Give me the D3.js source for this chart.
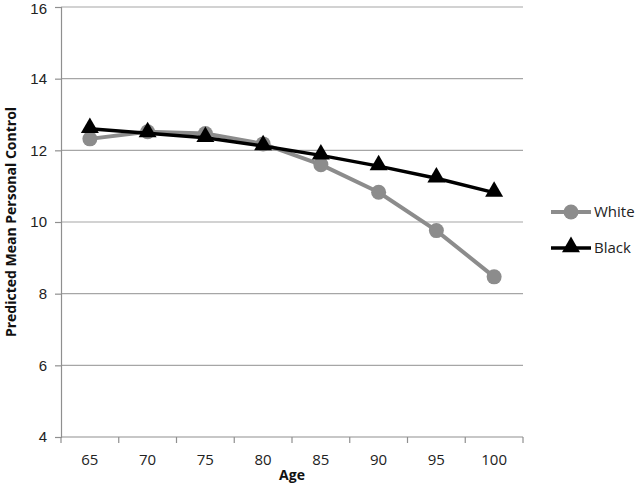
<!DOCTYPE html>
<html>
<head>
<meta charset="utf-8">
<script src="https://cdn.jsdelivr.net/npm/d3@7"></script>
<style>
  body { margin: 0; background: #fff; }
  svg { font-family: "Open Sans", "Liberation Sans", sans-serif; }
</style>
</head>
<body>
<svg id="chart" width="640" height="488"></svg>
<script>
var ages = ['65', '70', '75', '80', '85', '90', '95', '100'];
var white = [12.32, 12.52, 12.47, 12.18, 11.6, 10.83, 9.76, 8.47];
var black = [12.6, 12.48, 12.35, 12.12, 11.86, 11.56, 11.22, 10.82];
var yTicks = [4, 6, 8, 10, 12, 14, 16];

var margin = {left: 61, right: 117, top: 7, bottom: 51};
var width = 640, height = 488;

var svg = d3.select('#chart');

var x = d3.scaleBand()
  .domain(ages)
  .range([margin.left, width - margin.right]);

var y = d3.scaleLinear()
  .domain([4, 16])
  .range([height - margin.bottom, margin.top]);

var axisColor = '#8f8f8f';

// gridlines
svg.append('g')
  .selectAll('line')
  .data(yTicks.slice(1))
  .enter()
  .append('line')
  .attr('x1', margin.left)
  .attr('x2', width - margin.right)
  .attr('y1', function(d) { return y(d); })
  .attr('y2', function(d) { return y(d); })
  .attr('stroke', '#a6a6a6')
  .attr('stroke-width', 1.2);

// y axis
var yAxis = svg.append('g')
  .attr('transform', 'translate(' + margin.left + ',0)')
  .call(d3.axisLeft(y).tickValues(yTicks).tickSize(6).tickPadding(8));
yAxis.select('.domain').attr('stroke', axisColor).attr('stroke-width', 1.2);
yAxis.selectAll('.tick line').attr('stroke', axisColor).attr('stroke-width', 1.2);
yAxis.selectAll('.tick text').attr('font-size', 15).attr('fill', '#222');
// keep the top label inside the page
yAxis.selectAll('.tick text').filter(function(d) { return d === 16; }).attr('dy', '0.45em');

// x axis
var xAxisG = svg.append('g')
  .attr('transform', 'translate(0,' + y(4) + ')');
xAxisG.append('line')
  .attr('x1', margin.left)
  .attr('x2', width - margin.right)
  .attr('stroke', axisColor)
  .attr('stroke-width', 1.2);
var bounds = ages.map(function(d) { return x(d); }).concat([x(ages[ages.length - 1]) + x.bandwidth()]);
xAxisG.selectAll('line.tk')
  .data(bounds)
  .enter()
  .append('line')
  .attr('class', 'tk')
  .attr('x1', function(d) { return d; })
  .attr('x2', function(d) { return d; })
  .attr('y1', 0)
  .attr('y2', 6)
  .attr('stroke', axisColor)
  .attr('stroke-width', 1.2);
xAxisG.selectAll('text')
  .data(ages)
  .enter()
  .append('text')
  .attr('x', function(d) { return x(d) + x.bandwidth() / 2; })
  .attr('y', 28)
  .attr('text-anchor', 'middle')
  .attr('font-size', 15)
  .attr('fill', '#222')
  .text(function(d) { return d; });

// axis titles
svg.append('text')
  .attr('x', x('80') + x.bandwidth())
  .attr('y', 480)
  .attr('text-anchor', 'middle')
  .attr('font-size', 14)
  .attr('font-weight', 'bold')
  .attr('fill', '#111')
  .text('Age');

svg.append('text')
  .attr('transform', 'translate(16,' + ((margin.top + height - margin.bottom) / 2) + ') rotate(-90)')
  .attr('text-anchor', 'middle')
  .attr('font-size', 14)
  .attr('font-weight', 'bold')
  .attr('fill', '#111')
  .text('Predicted Mean Personal Control');

var cx = function(d, i) { return x(ages[i]) + x.bandwidth() / 2; };
var line = d3.line()
  .x(function(d, i) { return cx(d, i); })
  .y(function(d) { return y(d); });

var grayColor = '#8c8c8c';
var triangle = d3.symbol().type(d3.symbolTriangle).size(140);

// white series
svg.append('path')
  .datum(white)
  .attr('d', line)
  .attr('fill', 'none')
  .attr('stroke', grayColor)
  .attr('stroke-width', 4);
svg.append('g')
  .selectAll('circle')
  .data(white)
  .enter()
  .append('circle')
  .attr('cx', cx)
  .attr('cy', function(d) { return y(d); })
  .attr('r', 7.5)
  .attr('fill', grayColor);

// black series
svg.append('path')
  .datum(black)
  .attr('d', line)
  .attr('fill', 'none')
  .attr('stroke', '#000')
  .attr('stroke-width', 3.5);
svg.append('g')
  .selectAll('path')
  .data(black)
  .enter()
  .append('path')
  .attr('d', triangle)
  .attr('transform', function(d, i) { return 'translate(' + cx(d, i) + ',' + (y(d) - 1) + ')'; })
  .attr('fill', '#000');

// legend
var legend = svg.append('g').attr('transform', 'translate(551,0)');
legend.append('line')
  .attr('x1', 0).attr('x2', 40).attr('y1', 212).attr('y2', 212)
  .attr('stroke', grayColor).attr('stroke-width', 4);
legend.append('circle')
  .attr('cx', 20).attr('cy', 212).attr('r', 7.5).attr('fill', grayColor);
legend.append('text')
  .attr('x', 43).attr('y', 217)
  .attr('font-size', 15).attr('fill', '#222')
  .text('White');
legend.append('line')
  .attr('x1', 0).attr('x2', 40).attr('y1', 248).attr('y2', 248)
  .attr('stroke', '#000').attr('stroke-width', 3.5);
legend.append('path')
  .attr('d', triangle)
  .attr('transform', 'translate(20,247)')
  .attr('fill', '#000');
legend.append('text')
  .attr('x', 43).attr('y', 253)
  .attr('font-size', 15).attr('fill', '#222')
  .text('Black');
</script>
</body>
</html>
